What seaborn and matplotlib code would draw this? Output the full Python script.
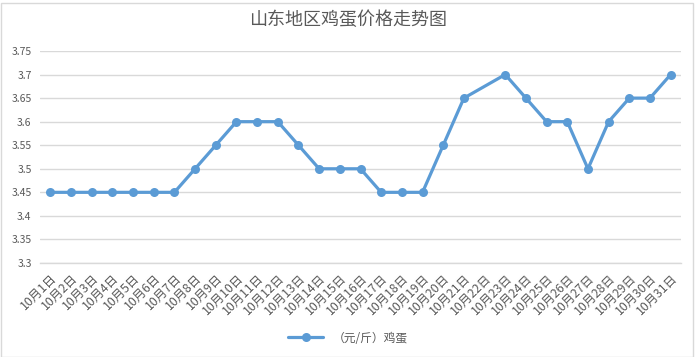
import numpy as np
import pandas as pd
import seaborn as sns
import matplotlib.pyplot as plt
from matplotlib.patches import Rectangle

# 日期标签
days = [f'10月{i}日' for i in range(1, 32)]
# 鸡蛋价格（元/斤），10月22日无数据
price = [3.45, 3.45, 3.45, 3.45, 3.45, 3.45, 3.45, 3.5, 3.55, 3.6,
         3.6, 3.6, 3.55, 3.5, 3.5, 3.5, 3.45, 3.45, 3.45, 3.55,
         3.65, np.nan, 3.7, 3.65, 3.6, 3.6, 3.5, 3.6, 3.65, 3.65,
         3.7]
y_ticks = [3.3, 3.35, 3.4, 3.45, 3.5, 3.55, 3.6, 3.65, 3.7, 3.75]
series_name = '（元/斤）鸡蛋'

sns.set_theme(style='white')
plt.rcParams['font.family'] = ['Noto Sans CJK SC', 'DejaVu Sans']

df = pd.DataFrame({'pos': np.arange(len(days)), 'day': days, 'price': price})
df_line = df.dropna()

fig = plt.figure(figsize=(6.96, 3.57), dpi=100)
ax = fig.add_axes([40 / 696, 1 - 263 / 357, 641 / 696, 212 / 357])

sns.lineplot(data=df_line, x='pos', y='price', ax=ax, color='#5B9BD5',
             linewidth=2.3, marker='o', markersize=6.5, markeredgewidth=0,
             label=series_name)

ax.set_xlim(-0.5, len(days) - 0.5)
ax.set_ylim(3.3, 3.75)
ax.set_yticks(y_ticks)
ax.set_yticklabels([f'{v:g}' for v in y_ticks])
ax.yaxis.grid(True, color='#D9D9D9', linewidth=1)
ax.set_axisbelow(True)

ax.set_xticks(df['pos'])
ax.set_xticklabels(days, rotation=45, ha='right', rotation_mode='anchor')
ax.set_xticks(np.arange(len(days) + 1) - 0.5, minor=True)
ax.tick_params(axis='x', which='major', length=0, pad=6, labelsize=8.8, colors='#595959')
ax.tick_params(axis='x', which='minor', length=4, width=1, color='#D9D9D9', direction='out')
ax.tick_params(axis='y', length=0, labelsize=7.5, colors='#595959', pad=6)

for s in ['left', 'right', 'top']:
    ax.spines[s].set_visible(False)
ax.spines['bottom'].set_color('#D9D9D9')
ax.spines['bottom'].set_linewidth(1)

ax.set_xlabel('')
ax.set_ylabel('')

fig.text(0.5, 1 - 20 / 357, '山东地区鸡蛋价格走势图', ha='center', va='center',
         fontsize=13, color='#595959')

ax.get_legend().remove()
handles, labels = ax.get_legend_handles_labels()
fig.legend(handles, labels, loc='center', bbox_to_anchor=(0.5, 1 - 338 / 357),
           frameon=False, fontsize=8.5, labelcolor='#595959', handlelength=3)

fig.patches.append(Rectangle((0.5 / 696, 0.5 / 357), 1 - 4 / 696, 1 - 3 / 357,
                             transform=fig.transFigure, fill=False,
                             edgecolor='#D9D9D9', linewidth=1))

fig.savefig('out.png', dpi=100)
